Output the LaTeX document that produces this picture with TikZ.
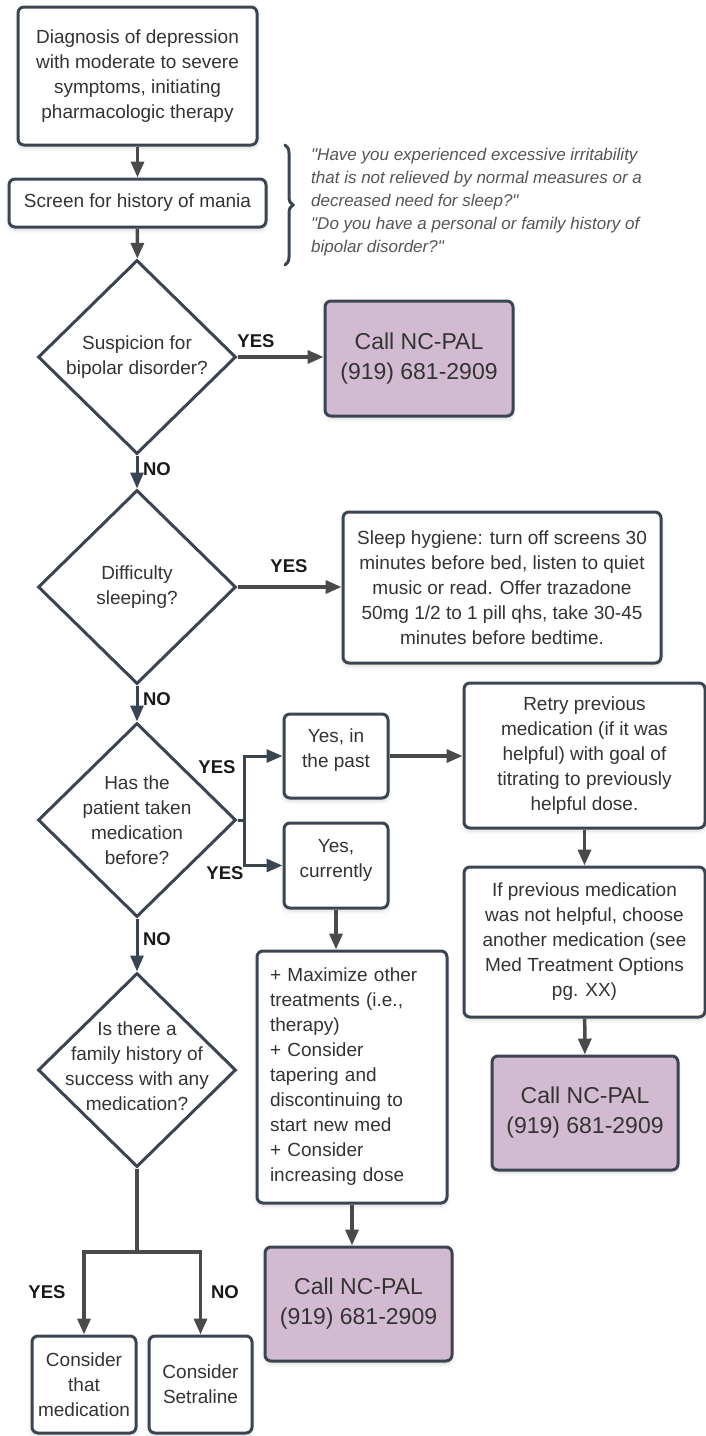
\documentclass[tikz,border=0pt]{standalone}
\usepackage{fontspec}
\setmainfont{Liberation Sans}[Ligatures=TeXOff]
\usetikzlibrary{shapes.geometric,arrows.meta,decorations.pathreplacing,shadows.blur}

\definecolor{edgeC}{HTML}{3B4552}
\definecolor{lineC}{HTML}{4A4A4A}
\definecolor{textC}{HTML}{333333}
\definecolor{quoteC}{HTML}{555555}
\definecolor{palC}{HTML}{D2BBD0}

\tikzset{
  box/.style={draw=edgeC, line width=3pt, rounded corners=6pt, fill=white, inner sep=0pt,
    align=center, text=textC, font=\fontsize{19}{25}\selectfont,
    blur shadow={shadow xshift=0pt, shadow yshift=-3pt, shadow blur radius=4pt, shadow opacity=15}},
  palbox/.style={box, fill=palC, font=\fontsize{23}{30}\selectfont},
  decision/.style={draw=edgeC, line width=3pt, shape=diamond, fill=white, inner sep=0pt,
    minimum width=198pt, minimum height=194pt},
  dtext/.style={align=center, text=textC, font=\fontsize{19}{25}\selectfont, inner sep=0pt},
  answer/.style={font=\fontsize{18.5}{22}\selectfont\bfseries, text=black!90, inner sep=0pt},
  flow/.style={draw=lineC, line width=3.5pt, -{Triangle[length=16pt,width=13pt]}},
  link/.style={draw=lineC, line width=3.5pt}
}

\begin{document}
\begin{tikzpicture}[x=1pt, y=-1pt]
  \useasboundingbox (0,0) rectangle (706,1436);

  % main column
  \node[box, minimum width=239pt, minimum height=138pt] (diag) at (137.5,76)
    {Diagnosis of depression\\with moderate to severe\\symptoms, initiating\\pharmacologic therapy};
  \node[box, minimum width=257pt, minimum height=48pt] (scr) at (137.5,203) {Screen for history of mania};

  \node[decision] (d1) at (137,357) {};
  \node[dtext] (d1t) at (d1) {Suspicion for\\bipolar disorder?};
  \node[decision] (d2) at (137,587) {};
  \node[dtext] (d2t) at (d2) {Difficulty\\sleeping?};
  \node[decision] (d3) at (137,820) {};
  \node[dtext] (d3t) at (d3) {Has the\\patient taken\\medication\\before?};
  \node[decision] (d4) at (137,1070) {};
  \node[dtext] (d4t) at (137,1066) {Is there a\\family history of\\success with any\\medication?};

  \node[box, minimum width=104pt, minimum height=97pt] (cthat) at (84,1384.5) {Consider\\that\\medication};
  \node[box, minimum width=103pt, minimum height=97pt] (cset) at (200.5,1384.5) {Consider\\Setraline};

  % screening questions
  \coordinate (qtop) at (285,145);
  \coordinate (qbot) at (285,265);
  \draw[edgeC, line width=3pt, line cap=round, decorate, decoration={brace, amplitude=8pt}] (qtop) -- (qbot);
  \node[anchor=west, align=left, inner sep=0pt, text=quoteC, font=\fontsize{17}{23}\selectfont\itshape] (quote) at (311,202.5)
    {"Have you experienced excessive irritability\\that is not relieved by normal measures or a\\decreased need for sleep?"\\"Do you have a personal or family history of\\bipolar disorder?"};

  % right hand side
  \node[palbox, minimum width=188pt, minimum height=115pt] (call1) at (419,358.5) {Call NC-PAL\\(919) 681-2909};
  \node[box, minimum width=318pt, minimum height=151pt] (sleep) at (502,587.5)
    {Sleep hygiene: turn off screens 30\\minutes before bed, listen to quiet\\music or read. Offer trazadone\\50mg 1/2 to 1 pill qhs, take 30-45\\minutes before bedtime.};
  \node[box, minimum width=104pt, minimum height=84pt] (past) at (336,756) {Yes, in\\the past\vphantom{g}\\[-10pt]};
  \node[box, minimum width=104pt, minimum height=85pt] (curr) at (336,865.5) {Yes,\\currently\\[-10pt]};
  \node[box, minimum width=241pt, minimum height=145pt] (retry) at (584.5,755.5)
    {Retry previous\\medication (if it was\\helpful) with goal of\\titrating to previously\\helpful dose.};
  \node[box, minimum width=241pt, minimum height=150pt] (ifprev) at (584.5,942)
    {If previous medication\\was not helpful, choose\\another medication (see\\Med Treatment Options\\pg. XX)};
  \node[palbox, minimum width=186pt, minimum height=114pt] (call3) at (585,1113) {Call NC-PAL\\(919) 681-2909};
  \node[box, align=left, text width=164pt, minimum width=190pt, minimum height=252pt] (plus) at (352,1077)
    {+ Maximize other\\treatments (i.e.,\\therapy)\\+ Consider\\tapering and\\discontinuing to\\start new med\\+ Consider\\increasing dose};
  \node[palbox, minimum width=187pt, minimum height=114pt] (call2) at (358.5,1304) {Call NC-PAL\\(919) 681-2909};

  % connectors
  \draw[flow] (diag) -- (scr);
  \draw[flow] (scr) -- (d1);
  \draw[flow] (d1.east) -- (d1.east -| call1.west);
  \draw[flow, draw=edgeC, line width=3pt] (d1) -- (d2);
  \draw[flow] (d2.east) -- (d2.east -| sleep.west);
  \draw[flow, draw=edgeC, line width=3pt] (d2) -- (d3);
  \draw[flow, draw=edgeC, line width=3pt] (d3.east) -- ++(7,0) |- (past.west);
  \draw[flow, draw=edgeC, line width=3pt] (d3.east) -- ++(7,0) |- (curr.west);
  \draw[flow, draw=edgeC, line width=3pt] (d3) -- (d4);
  \draw[flow] (past.east) -- (retry.west |- past.east);
  \draw[flow] (retry) -- (ifprev);
  \draw[flow] (ifprev) -- (call3);
  \draw[flow] (curr.south) -- (curr.south |- plus.north);
  \draw[flow] (plus.south) -- (plus.south |- call2.north);

  \coordinate (split) at (137,1252);
  \draw[link] (d4.south) -- (split);
  \draw[flow] (split) -| (cthat.north);
  \draw[flow] (split) -| (cset.north);

  % answers
  \node[answer] (yes1) at (256,341) {YES};
  \node[answer] (no1) at (157,469) {NO};
  \node[answer] (yes2) at (289,566) {YES};
  \node[answer] (no2) at (157,699) {NO};
  \node[answer] (yes3) at (217,767) {YES};
  \node[answer] (yes4) at (225,873) {YES};
  \node[answer] (no3) at (157,939) {NO};
  \node[answer] (yes5) at (47,1292) {YES};
  \node[answer] (no5) at (225,1292) {NO};
\end{tikzpicture}
\end{document}
